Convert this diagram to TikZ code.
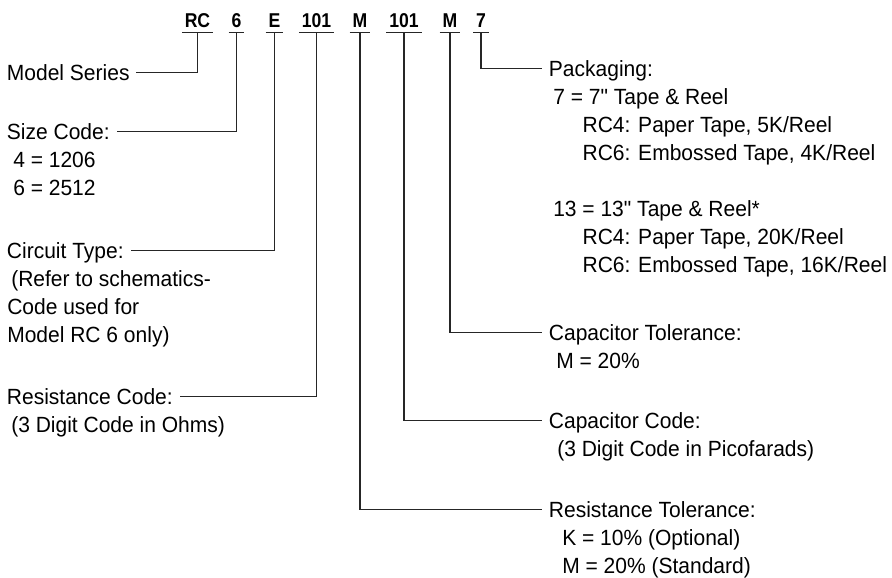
\documentclass[tikz,border=0pt]{standalone}
\usepackage{fontspec}
\setmainfont{Liberation Sans}[Ligatures=TeXOff,FakeStretch=0.955]
\newfontfamily\codefont{Liberation Sans}[FakeStretch=0.88]
\usetikzlibrary{calc}

\tikzset{
  code/.style = {font=\codefont\fontsize{15}{16}\selectfont\bfseries,anchor=base,inner xsep=2pt,inner ysep=3.75pt,text depth=0pt},
  title/.style = {font=\fontsize{16.5}{21}\selectfont,anchor=base west,inner xsep=5pt,inner ysep=0pt,text height=11.8pt,text depth=0pt},
  detail/.style = {font=\fontsize{16.5}{21}\selectfont,anchor=north west,inner sep=0pt,align=left},
  link/.style = {draw=black!85,line width=0.8pt}
}

\begin{document}
\begin{tikzpicture}[x=0.75pt,y=-0.75pt]
	\useasboundingbox (0,0) rectangle (892,578);
	% part number
	\node (hRC) [code] at (197.5,27) {RC};
	\node (h6) [code] at (236.5,27) {6};
	\node (hE) [code] at (274.5,27) {E};
	\node (h101a) [code] at (316.5,27) {101};
	\node (hMa) [code] at (360,27) {M};
	\node (h101b) [code] at (404,27) {101};
	\node (hMb) [code] at (450,27) {M};
	\node (h7) [code] at (481,27) {7};
	\foreach \n in {hRC,h6,hE,h101a,hMa,h101b,hMb,h7}
		\draw [link] (\n.south west) -- (\n.south east);
	% left column
	\node (modelT) [title] at (0,80) {Model Series};
	\node (sizeT) [title] at (0,139) {Size Code:};
	\node (sizeD) [detail] at ($(sizeT.base west)+(13,8.4)$) {\strut 4 = 1206\\6 = 2512};
	\node (circT) [title] at (0,258.5) {Circuit Type:~};
	\node (circD) [detail] at ($(circT.base west)+(7,8.4)$) {\strut\hspace*{3pt}(Refer to schematics-\\Code used for\\Model RC 6 only)};
	\node (resT) [title] at (0,404.5) {Resistance Code:};
	\node (resD) [detail] at ($(resT.base west)+(7,8.4)$) {\strut\hspace*{3pt}(3 Digit Code in Ohms)};
	% right column
	\node (packT) [title] at (542,76) {Packaging:};
	\node (packD) [detail] at ($(packT.base west)+(7,8.4)$) {\strut\hspace*{3pt}7 = 7" Tape \& Reel\\
		\hspace*{25pt}RC4: Paper Tape, 5K/Reel\\
		\hspace*{25pt}RC6: Embossed Tape, 4K/Reel\\[21pt]
		\hspace*{3pt}13 = 13" Tape \& Reel*\\
		\hspace*{25pt}RC4: Paper Tape, 20K/Reel\\
		\hspace*{25pt}RC6: Embossed Tape, 16K/Reel};
	\node (ctolT) [title] at (542,340.5) {Capacitor Tolerance:};
	\node (ctolD) [detail] at ($(ctolT.base west)+(14,8.4)$) {\strut M = 20\%};
	\node (capT) [title] at (542,428.5) {Capacitor Code:};
	\node (capD) [detail] at ($(capT.base west)+(15,8.4)$) {\strut (3 Digit Code in Picofarads)};
	\node (rtolT) [title] at (542,517.5) {Resistance Tolerance:};
	\node (rtolD) [detail] at ($(rtolT.base west)+(20,8.4)$) {\strut K = 10\% (Optional)\\M = 20\% (Standard)};
	% leaders
	\draw [link] (hRC.south) |- (modelT.east);
	\draw [link] (h6.south) |- (sizeT.east);
	\draw [link] (hE.south) |- (circT.east);
	\draw [link] (h101a.south) |- (resT.east);
	\draw [link] (hMa.south) |- (rtolT.west);
	\draw [link] (h101b.south) |- (capT.west);
	\draw [link] (hMb.south) |- (ctolT.west);
	\draw [link] (h7.south) |- (packT.west);
\end{tikzpicture}
\end{document}
